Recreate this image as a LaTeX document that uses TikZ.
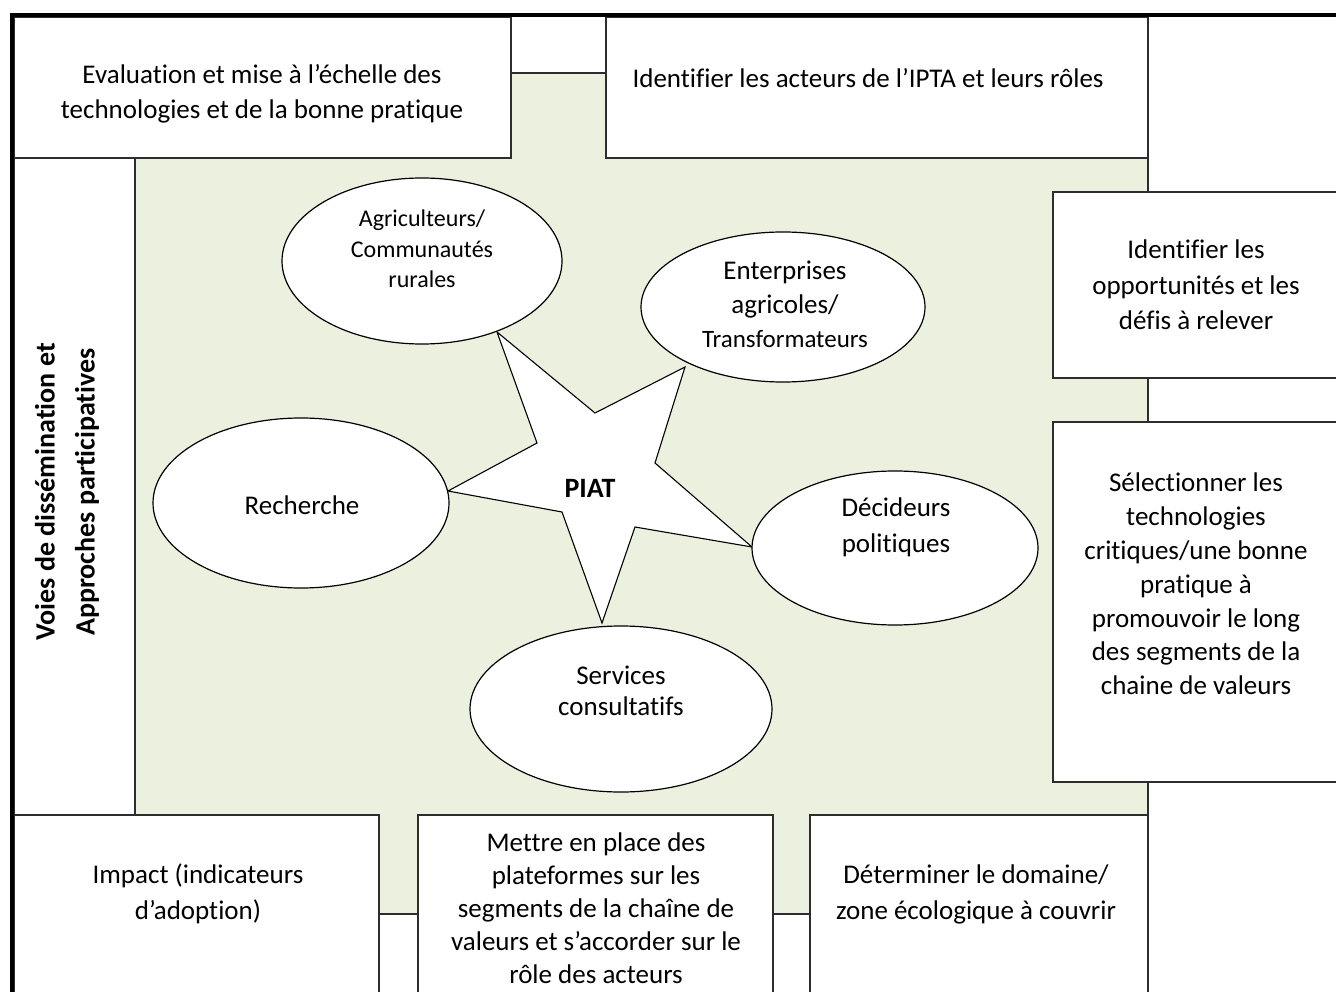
\documentclass[tikz,border=0pt]{standalone}
\usepackage{fontspec}
\setmainfont{Carlito}[Ligatures={NoCommon}]
\usetikzlibrary{shapes.geometric}
\definecolor{panelgreen}{RGB}{235,241,222}
\definecolor{edgegray}{RGB}{45,45,45}

\tikzset{
  box/.style={draw=edgegray, line width=1.6pt, fill=white},
  boxtext/.style={align=center, inner sep=0pt, font=\fontsize{27}{35.5}\selectfont},
  actor/.style={ellipse, draw=black, line width=1.2pt, fill=white, inner sep=0pt},
  actortext/.style={align=center, inner sep=0pt, font=\fontsize{26}{32}\selectfont},
}

\begin{document}
\begin{tikzpicture}[x=1pt,y=-1pt]

    \useasboundingbox (0,0) rectangle (1336,992);
    \clip (0,0) rectangle (1336,992);

    % Panel
    \draw[line width=1.6pt, draw=edgegray, fill=panelgreen] (135,73) rectangle (1148,914);

    % Star
    \draw[line width=1.1pt, fill=white] (497,332) -- (537,443) -- (448,491) -- (562,512) -- (602,623)
        -- (635,527) -- (752,547) -- (655,463) -- (685,367) -- (595,413) -- cycle;
    \node[font=\bfseries\fontsize{28}{30}\selectfont] (piat) at (590,488) {PIAT};

    % Actors
    \node[actor, minimum width=280pt, minimum height=166pt] (agri) at (422,261) {};
    \node[actor, minimum width=284pt, minimum height=150pt] (entr) at (783,307) {};
    \node[actor, minimum width=296pt, minimum height=170pt] (rech) at (301,503) {};
    \node[actor, minimum width=286pt, minimum height=154pt] (deci) at (895,548) {};
    \node[actor, minimum width=302pt, minimum height=166pt] (serv) at (621,709) {};

    \node[actortext, font=\fontsize{24}{30.5}\selectfont] (agriT) at (422,249) {Agriculteurs/\\Communautés\\rurales};
    \node[actortext, font=\fontsize{27}{34}\selectfont] (entrT) at (785,304) {Enterprises\\agricoles/\\{\fontsize{25}{30}\selectfont Transformateurs}};
    \node[actortext, font=\fontsize{27}{34}\selectfont] (rechT) at (302,505) {Recherche};
    \node[actortext, font=\fontsize{27}{36}\selectfont] (deciT) at (896,527) {Décideurs\\politiques};
    \node[actortext, font=\fontsize{27}{31}\selectfont] (servT) at (621,691) {Services\\consultatifs};

    % Boxes
    \draw[box] (14,17) rectangle (511,158);
    \draw[box] (606,17) rectangle (1148,158);
    \draw[box] (1053,192) rectangle (1345,378);
    \draw[box] (1053,422) rectangle (1345,782);
    \draw[box] (14,158) rectangle (135,815);
    \draw[box] (14,815) rectangle (379,1000);
    \draw[box] (418,815) rectangle (773,1000);
    \draw[box] (810,815) rectangle (1148,1000);

    \node[boxtext] (evalT) at (262,94) {Evaluation et mise à l’échelle des\\technologies et de la bonne pratique};
    \node[boxtext] (acteT) at (868,78) {Identifier les acteurs de l’IPTA et leurs rôles};
    \node[boxtext] (oppoT) at (1196,285) {Identifier les\\opportunités et les\\défis à relever};
    \node[boxtext, font=\fontsize{27}{33.8}\selectfont] (seleT) at (1196,584) {Sélectionner les\\technologies\\critiques/une bonne\\pratique à\\promouvoir le long\\des segments de la\\chaine de valeurs};
    \node[boxtext, rotate=90, font=\bfseries\fontsize{28}{40}\selectfont] (voieT) at (67,492) {Voies de dissémination et\\Approches participatives};
    \node[boxtext, font=\fontsize{27}{36}\selectfont] (impaT) at (198,894) {Impact (indicateurs\\d’adoption)};
    \node[boxtext, font=\fontsize{27}{33}\selectfont] (mettT) at (596,908) {Mettre en place des\\plateformes sur les\\segments de la chaîne de\\valeurs et s’accorder sur le\\rôle des acteurs};
    \node[boxtext, font=\fontsize{27}{36}\selectfont] (deteT) at (976,894) {Déterminer le domaine/\\zone écologique à couvrir};

    % Frame
    \draw[line width=4pt] (12,1000) -- (12,15) -- (1345,15);

\end{tikzpicture}
\end{document}
